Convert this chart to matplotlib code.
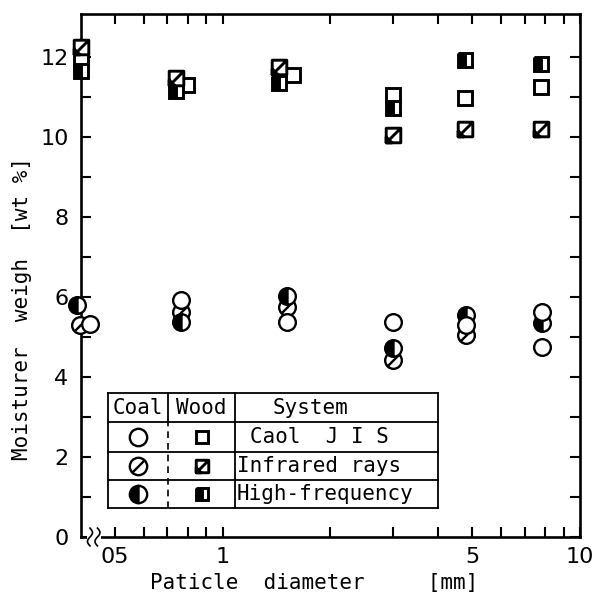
import numpy as np
import matplotlib
matplotlib.use("Agg")
import matplotlib.pyplot as plt
from matplotlib.path import Path
from matplotlib.ticker import FixedLocator, FixedFormatter, NullFormatter

plt.rcParams['font.family'] = ['DejaVu Sans Mono', 'DejaVu Sans']

# ---------------- data ----------------
coal_jis_x = [0.424, 0.763, 1.51, 3.0, 4.8, 7.85, 7.85]
coal_jis_y = [5.33, 5.92, 5.38, 5.38, 5.30, 5.62, 4.75]
coal_ir_x = [0.398, 0.763, 1.51, 3.0, 4.8]
coal_ir_y = [5.30, 5.62, 5.75, 4.42, 5.05]
coal_hf_x = [0.391, 0.763, 1.51, 3.0, 4.8, 7.85]
coal_hf_y = [5.80, 5.38, 6.02, 4.72, 5.55, 5.35]

wood_jis_x = [0.40, 0.793, 1.57, 3.0, 4.78, 7.8]
wood_jis_y = [11.95, 11.30, 11.55, 11.05, 10.97, 11.25]
wood_ir_x = [0.40, 0.739, 1.44, 3.0, 4.78, 7.8]
wood_ir_y = [12.25, 11.48, 11.75, 10.05, 10.20, 10.20]
wood_hf_x = [0.40, 0.739, 1.44, 3.0, 4.78, 7.8]
wood_hf_y = [11.65, 11.15, 11.35, 10.72, 11.92, 11.82]

x_major = [0.5, 1, 5, 10]
x_major_labels = ["05", "1", "5", "10"]
x_minor = [0.6, 0.7, 0.8, 0.9, 2, 3, 4, 6, 7, 8, 9]
y_major = [0, 2, 4, 6, 8, 10, 12]
y_minor = [1, 3, 5, 7, 9, 11]

legend_cols = ["Coal", "Wood", "System"]
legend_rows = ["Caol  J I S", "Infrared rays", "High-frequency"]

# ---------------- marker shapes ----------------
hatched_circle = Path.make_compound_path(
    Path.unit_circle(),
    Path([(-0.72, -0.72), (0.72, 0.72)], [Path.MOVETO, Path.LINETO]))
hatched_square = Path.make_compound_path(
    Path([(-1, -1), (1, -1), (1, 1), (-1, 1), (-1, -1)],
         [Path.MOVETO, Path.LINETO, Path.LINETO, Path.LINETO, Path.CLOSEPOLY]),
    Path([(-1, -1), (1, 1)], [Path.MOVETO, Path.LINETO]),
    Path([(-1, -1), (-0.2, -1), (-1, -0.2), (-1, -1)],
         [Path.MOVETO, Path.LINETO, Path.LINETO, Path.CLOSEPOLY]))

C_MS, S_MS, EW = 12, 10.5, 1.7
styles = {
    'coal_jis': dict(marker='o', ms=C_MS, mfc='white', mec='black', mew=EW),
    'coal_ir': dict(marker=hatched_circle, ms=C_MS, mfc='white', mec='black', mew=EW),
    'coal_hf': dict(marker='o', ms=C_MS, fillstyle='left', mfc='black',
                    mfcalt='white', mec='black', mew=EW),
    'wood_jis': dict(marker='s', ms=S_MS, mfc='white', mec='black', mew=EW + 0.4),
    'wood_ir': dict(marker=hatched_square, ms=S_MS, mfc='white', mec='black', mew=EW + 0.4),
    'wood_hf': dict(marker='s', ms=S_MS, fillstyle='left', mfc='black',
                    mfcalt='white', mec='black', mew=EW + 0.4),
}

fig = plt.figure(figsize=(5.95, 5.99), dpi=100)
ax = fig.add_axes([81 / 595, 1 - 537 / 599, 499 / 595, 523 / 599])
ax.set_xscale('log')
ax.set_xlim(0.401, 10)
ax.set_ylim(0, 13.07)

series = [
    (wood_jis_x, wood_jis_y, 'wood_jis'), (wood_hf_x, wood_hf_y, 'wood_hf'),
    (wood_ir_x, wood_ir_y, 'wood_ir'),
    (coal_ir_x, coal_ir_y, 'coal_ir'), (coal_hf_x, coal_hf_y, 'coal_hf'),
    (coal_jis_x, coal_jis_y, 'coal_jis'),
]
for xs, ys, key in series:
    ax.plot(xs, ys, ls='none', clip_on=False, zorder=4, **styles[key])

# ticks
ax.xaxis.set_major_locator(FixedLocator(x_major))
ax.xaxis.set_major_formatter(FixedFormatter(x_major_labels))
ax.xaxis.set_minor_locator(FixedLocator(x_minor))
ax.xaxis.set_minor_formatter(NullFormatter())
ax.yaxis.set_major_locator(FixedLocator(y_major))
ax.yaxis.set_minor_locator(FixedLocator(y_minor))
ax.tick_params(which='both', direction='in', length=7, width=1.5,
               top=True, right=True, labelsize=16)
ax.tick_params(axis='x', which='both', pad=7)
ax.tick_params(axis='y', which='both', pad=9)
for lab in ax.get_xticklabels() + ax.get_yticklabels():
    lab.set_family(['DejaVu Sans'])
for sp in ax.spines.values():
    sp.set_linewidth(1.9)

# axis break on the x axis
ax.plot([0.013, 0.040], [0, 0], transform=ax.transAxes, color='white',
        lw=4, clip_on=False, zorder=6, solid_capstyle='butt')
t = np.linspace(-1, 1, 40)
for x0 in [0.018, 0.033]:
    ax.plot(x0 + 0.005 * np.sin(t * np.pi), t * 0.017, transform=ax.transAxes,
            color='black', lw=1.2, clip_on=False, zorder=7)

# axis labels
fig.text(150 / 595, 1 - 583 / 599, "Paticle  diameter     [mm]",
         fontsize=15, ha='left', va='center')
fig.text(22 / 595, 1 - 308 / 599, "Moisturer  weigh  [wt %]",
         fontsize=15, rotation=90, ha='center', va='center')

# ---------------- legend table ----------------
cx = [0.054, 0.174, 0.309, 0.715]
ry = [0.275, 0.220, 0.1625, 0.109, 0.0555]
tr = ax.transAxes
lk = dict(transform=tr, color='black', lw=1.3, zorder=5)
for yv in ry:
    ax.plot([cx[0], cx[3]], [yv, yv], **lk)
for xv in [cx[0], cx[2], cx[3]]:
    ax.plot([xv, xv], [ry[4], ry[0]], **lk)
ax.plot([cx[1], cx[1]], [ry[1], ry[0]], **lk)
ax.plot([cx[1], cx[1]], [ry[4], ry[1]], transform=tr, color='black', lw=1.2,
        ls=(0, (4, 3)), zorder=5)

hy = (ry[0] + ry[1]) / 2
ax.text((cx[0] + cx[1]) / 2, hy, legend_cols[0], transform=tr, ha='center',
        va='center', fontsize=15)
ax.text((cx[1] + cx[2]) / 2, hy, legend_cols[1], transform=tr, ha='center',
        va='center', fontsize=15)
ax.text(0.46, hy, legend_cols[2], transform=tr, ha='center', va='center',
        fontsize=15)

coal_keys = ['coal_jis', 'coal_ir', 'coal_hf']
wood_keys = ['wood_jis', 'wood_ir', 'wood_hf']
text_x = [0.338, 0.312, 0.312]
for i, lab in enumerate(legend_rows):
    yc = (ry[i + 1] + ry[i + 2]) / 2
    cst = dict(styles[coal_keys[i]]); cst['ms'] = 12.5
    wst = dict(styles[wood_keys[i]]); wst['ms'] = 9
    ax.plot([(cx[0] + cx[1]) / 2], [yc], transform=tr, ls='none', zorder=6, **cst)
    ax.plot([(cx[1] + cx[2]) / 2], [yc], transform=tr, ls='none', zorder=6, **wst)
    ax.text(text_x[i], yc, lab, transform=tr, ha='left', va='center', fontsize=15)

fig.savefig("out.png", dpi=100)
